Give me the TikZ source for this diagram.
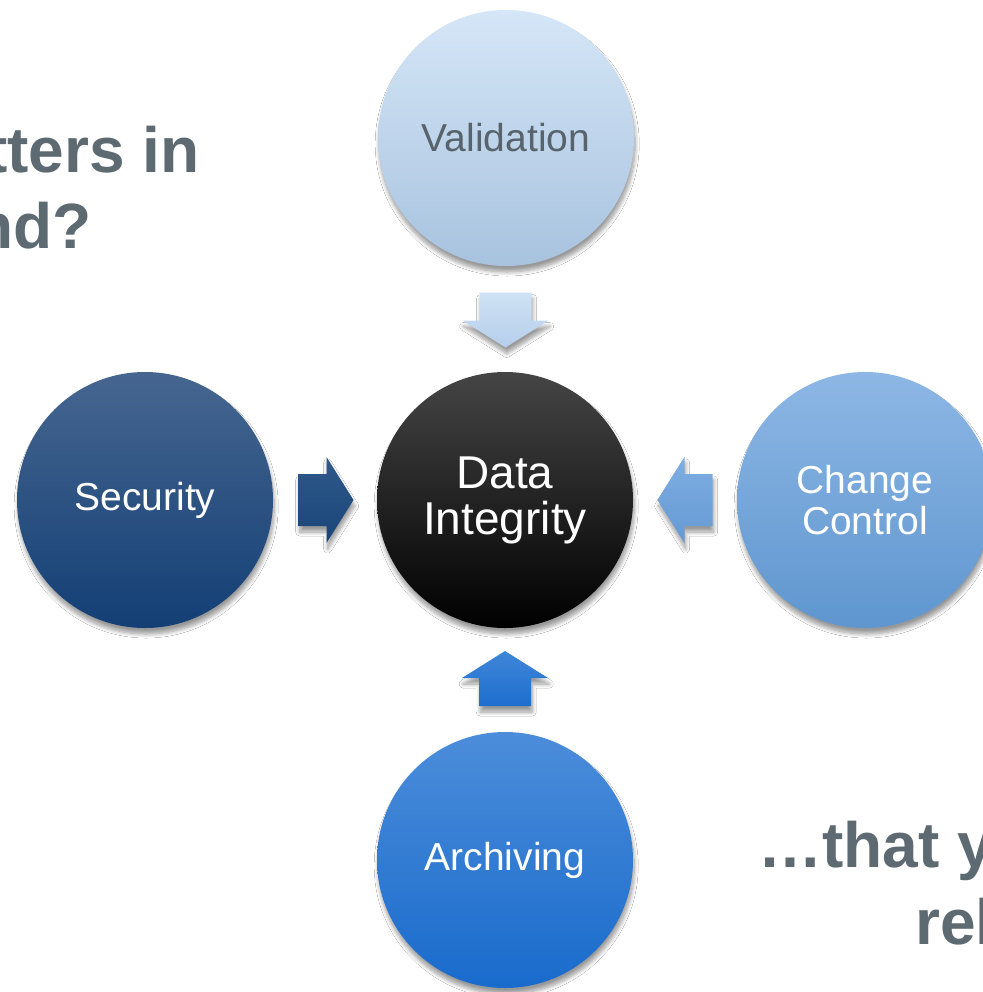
\documentclass[tikz,border=0pt]{standalone}
\usepackage{fontspec}
\setmainfont{Liberation Sans}
\usetikzlibrary{calc,shadows.blur}

% circle fills
\definecolor{valTop}{HTML}{D5E6F7}
\definecolor{valBot}{HTML}{A8C3DF}
\definecolor{diTop}{HTML}{454545}
\definecolor{secTop}{HTML}{466690}
\definecolor{secBot}{HTML}{133F75}
\definecolor{ccTop}{HTML}{8DB7E5}
\definecolor{ccBot}{HTML}{5F96CF}
\definecolor{arcTop}{HTML}{4C8DDA}
\definecolor{arcBot}{HTML}{196BCC}
% block arrow fills
\definecolor{dnTop}{HTML}{CFE2F5}
\definecolor{dnBot}{HTML}{B5CEEA}
\definecolor{rtTop}{HTML}{30598A}
\definecolor{rtBot}{HTML}{184579}
\definecolor{lfTop}{HTML}{7DAEE2}
\definecolor{lfBot}{HTML}{6699D4}
\definecolor{upTop}{HTML}{3F86D8}
\definecolor{upBot}{HTML}{1E6ECE}
% text
\definecolor{headGray}{HTML}{5E6A72}
\definecolor{labelGray}{HTML}{58636C}

\tikzset{
  softshadow/.style={blur shadow={shadow xshift=0.6pt, shadow yshift=-3pt,
      shadow blur radius=2pt, shadow blur steps=8, shadow opacity=40}},
  ball/.style={circle, minimum size=128pt, inner sep=0pt, align=center,
      shading=axis, softshadow, text=white,
      font={\fontsize{19.5}{22}\selectfont}},
  blockarrow/.style={shading=axis, softshadow},
  headline/.style={text=headGray, inner sep=0pt,
      font={\fontsize{32}{38.5}\selectfont\bfseries}},
}

\begin{document}
\begin{tikzpicture}[x=0.5pt, y=-0.5pt]
  \useasboundingbox (0,0) rectangle (983,992);
  \fill[white] (0,0) rectangle (983,992);
  \clip (0,0) rectangle (983,992);

  % headline fragments
  \node[headline, anchor=base east] (h1) at (200,172) {tters in};
  \node[headline, anchor=base east] (h2) at (92,248) {nd?};
  \node[headline, anchor=base west] (h3) at (758,867) {…that y};
  \node[headline, anchor=base west] (h4) at (915,944) {rel};

  % circles
  \node[ball, top color=valTop, bottom color=valBot, text=labelGray] (val) at (506,138) {Validation};
  \node[ball, top color=diTop, bottom color=black,
        font={\fontsize{23}{23}\selectfont}] (di) at (505,500) {Data\\Integrity};
  \node[ball, top color=secTop, bottom color=secBot] (sec) at (145,500) {Security};
  \node[ball, top color=ccTop, bottom color=ccBot,
        font={\fontsize{19.5}{20.5}\selectfont}] (cc) at (865,500) {Change\\Control};
  \node[ball, top color=arcTop, bottom color=arcBot] (arc) at (505,860) {Archiving};

  % block arrows, each centred between its circle and the hub
  \coordinate (mv) at ($(val)!0.5!(di)$);
  \coordinate (ms) at ($(sec)!0.5!(di)$);
  \coordinate (mc) at ($(cc)!0.5!(di)$);
  \coordinate (ma) at ($(arc)!0.5!(di)$);

  \path[blockarrow, top color=dnTop, bottom color=dnBot]
    ([shift={(-26,-26.5)}]mv) -- ++(52,0) -- ++(0,28) -- ++(17,0)
    -- ++(-43,27) -- ++(-43,-27) -- ++(17,0) -- cycle;
  \path[blockarrow, top color=rtTop, bottom color=rtBot]
    ([shift={(-26.5,-26)}]ms) -- ++(28,0) -- ++(0,-17) -- ++(27,43)
    -- ++(-27,43) -- ++(0,-17) -- ++(-28,0) -- cycle;
  \path[blockarrow, top color=lfTop, bottom color=lfBot]
    ([shift={(27.5,-26)}]mc) -- ++(-28,0) -- ++(0,-17) -- ++(-27,43)
    -- ++(27,43) -- ++(0,-17) -- ++(28,0) -- cycle;
  \path[blockarrow, top color=upTop, bottom color=upBot]
    ([shift={(-26,26)}]ma) -- ++(52,0) -- ++(0,-28) -- ++(17,0)
    -- ++(-43,-27) -- ++(-43,27) -- ++(17,0) -- cycle;
\end{tikzpicture}
\end{document}
